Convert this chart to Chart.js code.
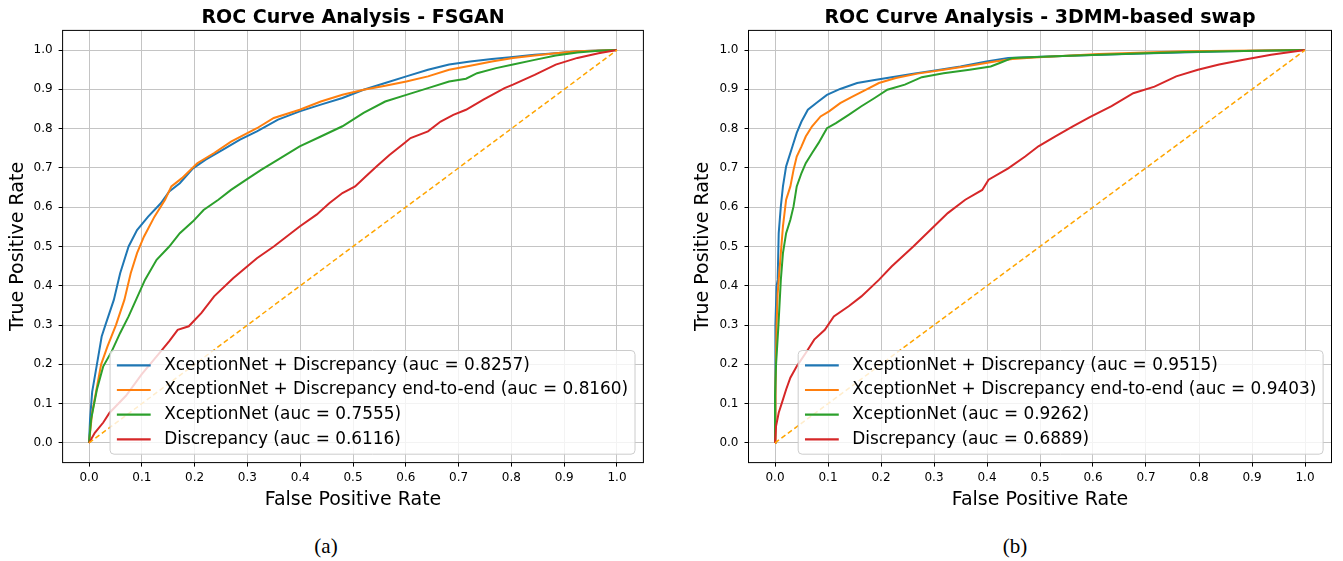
<!DOCTYPE html>
<html><head><meta charset="utf-8">
<script src="https://cdn.jsdelivr.net/npm/chart.js@4.4.0/dist/chart.umd.min.js"></script>
<style>
html,body{margin:0;padding:0;background:#fff;width:1343px;height:561px;overflow:hidden;position:relative}
canvas{position:absolute;top:0}
#ca{left:0}
#cb{left:670px}
.cap{position:absolute;font-family:'Liberation Serif','DejaVu Serif',serif;font-size:21px;color:#000;transform:translate(-50%,-50%);top:546px;white-space:nowrap}
</style></head><body>
<canvas id="ca" width="670" height="520"></canvas>
<canvas id="cb" width="673" height="520"></canvas>
<div class="cap" style="left:326px">(a)</div>
<div class="cap" style="left:1015px">(b)</div>
<script>
// ---------- tick labels ----------
const xTicks = [0,0.1,0.2,0.3,0.4,0.5,0.6,0.7,0.8,0.9,1.0];
const yTicks = [0,0.1,0.2,0.3,0.4,0.5,0.6,0.7,0.8,0.9,1.0];

// ---------- titles / labels ----------
const titleA = 'ROC Curve Analysis - FSGAN';
const titleB = 'ROC Curve Analysis - 3DMM-based swap';
const seriesNames = ['XceptionNet + Discrepancy', 'XceptionNet + Discrepancy end-to-end', 'XceptionNet', 'Discrepancy'];
const aucA = ['0.8257', '0.8160', '0.7555', '0.6116'];
const aucB = ['0.9515', '0.9403', '0.9262', '0.6889'];

// ---------- FSGAN (a) ----------
const fsganBlueFpr = [0,0.002,0.006,0.015,0.024,0.031,0.047,0.059,0.075,0.091,0.112,0.136,0.152,0.172,0.197,0.221,0.253,0.286,0.318,0.358,0.399,0.439,0.480,0.520,0.561,0.601,0.642,0.682,0.722,0.763,0.803,0.844,0.884,0.925,0.965,1];
const fsganBlueTpr = [0,0.06,0.13,0.2,0.271,0.3,0.364,0.432,0.5,0.542,0.576,0.610,0.640,0.661,0.699,0.721,0.746,0.772,0.793,0.823,0.844,0.861,0.878,0.899,0.916,0.933,0.950,0.963,0.971,0.977,0.982,0.988,0.992,0.997,0.999,1];

const fsganOrangeFpr = [0,0.006,0.023,0.035,0.051,0.067,0.079,0.091,0.104,0.124,0.144,0.156,0.176,0.205,0.237,0.269,0.318,0.350,0.399,0.439,0.480,0.520,0.561,0.601,0.642,0.682,0.722,0.763,0.803,0.844,0.884,0.925,1];
const fsganOrangeTpr = [0,0.077,0.2,0.246,0.3,0.364,0.432,0.483,0.525,0.576,0.619,0.653,0.674,0.712,0.738,0.767,0.801,0.827,0.848,0.869,0.886,0.899,0.909,0.920,0.933,0.950,0.960,0.971,0.980,0.986,0.992,0.997,1];

const fsganGreenFpr = [0,0.004,0.015,0.027,0.043,0.059,0.075,0.106,0.128,0.152,0.172,0.197,0.217,0.245,0.269,0.298,0.326,0.358,0.399,0.439,0.480,0.520,0.561,0.601,0.642,0.682,0.714,0.735,0.771,0.803,0.844,0.884,0.925,0.965,1];
const fsganGreenTpr = [0,0.06,0.136,0.195,0.233,0.280,0.322,0.415,0.466,0.5,0.534,0.564,0.593,0.619,0.644,0.670,0.695,0.721,0.755,0.780,0.806,0.840,0.869,0.886,0.903,0.920,0.927,0.941,0.954,0.963,0.975,0.986,0.994,0.998,1];

const fsganRedFpr = [0,0.011,0.027,0.039,0.07,0.1,0.136,0.152,0.168,0.189,0.213,0.237,0.273,0.318,0.350,0.399,0.431,0.455,0.480,0.504,0.524,0.545,0.569,0.597,0.609,0.642,0.666,0.690,0.714,0.747,0.787,0.803,0.844,0.884,0.925,0.965,1];
const fsganRedTpr = [0,0.026,0.052,0.077,0.12,0.175,0.233,0.259,0.288,0.297,0.331,0.373,0.419,0.470,0.500,0.551,0.581,0.610,0.636,0.653,0.678,0.704,0.733,0.763,0.776,0.793,0.818,0.835,0.848,0.874,0.903,0.912,0.937,0.963,0.980,0.992,1];

// ---------- 3DMM-based swap (b) ----------
const dmmBlueFpr = [0,0.0005,0.001,0.003,0.005,0.007,0.011,0.015,0.021,0.025,0.033,0.041,0.050,0.062,0.078,0.098,0.123,0.155,0.188,0.220,0.261,0.302,0.350,0.399,0.440,0.489,0.570,0.692,0.854,1];
const dmmBlueTpr = [0,0.15,0.3,0.4,0.415,0.534,0.602,0.653,0.704,0.721,0.755,0.789,0.818,0.848,0.865,0.886,0.901,0.916,0.924,0.931,0.940,0.948,0.958,0.971,0.980,0.982,0.986,0.991,0.997,1];

const dmmOrangeFpr = [0,0.001,0.003,0.005,0.007,0.011,0.015,0.021,0.029,0.035,0.041,0.050,0.058,0.070,0.086,0.102,0.123,0.147,0.172,0.196,0.228,0.269,0.318,0.367,0.415,0.448,0.489,0.611,0.773,1];
const dmmOrangeTpr = [0,0.15,0.3,0.38,0.415,0.483,0.551,0.619,0.653,0.695,0.729,0.755,0.780,0.806,0.831,0.844,0.865,0.882,0.899,0.916,0.929,0.940,0.950,0.960,0.971,0.977,0.981,0.990,0.997,1];

const dmmGreenFpr = [0,0.0,0.002,0.0065,0.011,0.015,0.021,0.029,0.035,0.041,0.050,0.058,0.070,0.082,0.098,0.115,0.139,0.163,0.188,0.212,0.245,0.277,0.318,0.367,0.407,0.424,0.448,0.529,0.611,0.773,1];
const dmmGreenTpr = [0,0.12,0.2,0.3,0.415,0.483,0.534,0.568,0.602,0.653,0.687,0.712,0.738,0.763,0.801,0.814,0.835,0.857,0.878,0.899,0.912,0.931,0.941,0.950,0.958,0.967,0.980,0.984,0.988,0.995,1];

const dmmRedFpr = [0,0.002,0.007,0.013,0.021,0.029,0.041,0.058,0.074,0.094,0.111,0.139,0.163,0.196,0.220,0.261,0.293,0.326,0.359,0.391,0.403,0.440,0.472,0.497,0.529,0.562,0.594,0.635,0.676,0.716,0.757,0.798,0.838,0.879,0.936,1];
const dmmRedTpr = [0,0.043,0.077,0.102,0.136,0.166,0.195,0.229,0.263,0.288,0.322,0.348,0.373,0.415,0.449,0.5,0.542,0.585,0.619,0.644,0.670,0.699,0.729,0.755,0.780,0.806,0.829,0.857,0.890,0.907,0.933,0.950,0.963,0.974,0.988,1];

// chance diagonal
const chanceFpr = [0,1];
const chanceTpr = [0,1];

const colors = ['#1f77b4','#ff7f0e','#2ca02c','#d62728'];
const zip = (xs, ys) => xs.map((x,i)=>({x, y: ys[i]}));

Chart.defaults.font.family = "'DejaVu Sans', sans-serif";
Chart.defaults.color = '#000';

const frameAndLegend = {
  id: 'frameAndLegend',
  afterDatasetsDraw(chart) {
    const ctx = chart.ctx, a = chart.chartArea;
    ctx.save();
    ctx.strokeStyle = '#000';
    ctx.lineWidth = 1;
    ctx.strokeRect(a.left, a.top, a.right - a.left, a.bottom - a.top);
    const F = 16.9;
    ctx.font = F + "px 'DejaVu Sans'";
    const items = chart.data.datasets.filter(d => d.inLegend);
    const maxW = Math.max(...items.map(d => ctx.measureText(d.label).width));
    const pad = 6.8, handle = 33.8, gap = 13.5, pitch = 24.7, edge = 14.8;
    const w = pad * 2 + handle + gap + maxW;
    const h = edge * 2 + pitch * (items.length - 1);
    const right = a.right - 8.4, bottom = a.bottom - 8.4;
    const left = right - w, top = bottom - h;
    ctx.beginPath();
    if (ctx.roundRect) ctx.roundRect(left, top, w, h, 4); else ctx.rect(left, top, w, h);
    ctx.fillStyle = 'rgba(255,255,255,0.8)';
    ctx.fill();
    ctx.strokeStyle = '#cccccc';
    ctx.stroke();
    items.forEach((d, i) => {
      const cy = top + edge + i * pitch;
      ctx.beginPath();
      ctx.strokeStyle = d.borderColor;
      ctx.lineWidth = 2.2;
      ctx.moveTo(left + pad, cy);
      ctx.lineTo(left + pad + handle, cy);
      ctx.stroke();
      ctx.fillStyle = '#000';
      ctx.textBaseline = 'middle';
      ctx.textAlign = 'left';
      ctx.fillText(d.label, left + pad + handle + gap, cy);
    });
    ctx.restore();
  }
};

function makeChart(id, title, series, aucs, yWidth, rightPad, yTitlePad) {
  const datasets = series.map((s, i) => ({
    label: seriesNames[i] + ' (auc = ' + aucs[i] + ')',
    data: zip(s[0], s[1]),
    borderColor: colors[i],
    backgroundColor: colors[i],
    borderWidth: 2,
    pointRadius: 0,
    fill: false,
    tension: 0,
    inLegend: true,
    order: 5 - i
  }));
  datasets.push({
    label: 'chance',
    data: zip(chanceFpr, chanceTpr),
    borderColor: '#ffa500',
    borderWidth: 1.5,
    borderDash: [5, 3],
    pointRadius: 0,
    fill: false,
    inLegend: false,
    order: 0
  });
  return new Chart(document.getElementById(id), {
    type: 'line',
    data: { datasets },
    options: {
      responsive: false,
      animation: false,
      layout: { padding: { left: 0, right: rightPad, top: 0, bottom: 0 } },
      plugins: {
        legend: { display: false },
        tooltip: { enabled: false },
        title: {
          display: true, text: title, fullSize: false, color: '#000',
          font: { size: 19, weight: 'bold' },
          padding: { top: 7, bottom: 0.6 }
        }
      },
      scales: {
        x: {
          type: 'linear', min: -0.05, max: 1.05,
          afterBuildTicks: s => { s.ticks = xTicks.map(v => ({ value: v })); },
          afterFit: s => { s.height = 57.4; },
          ticks: { callback: v => v.toFixed(1), font: { size: 12 }, color: '#000', padding: 4, maxRotation: 0, autoSkip: false },
          grid: { color: '#c4c4c4', lineWidth: 1, drawTicks: true, tickLength: 4, tickColor: '#000', tickWidth: 1 },
          border: { display: false },
          title: { display: true, text: 'False Positive Rate', font: { size: 19 }, color: '#000', padding: { top: 0, bottom: 8.6 } }
        },
        y: {
          type: 'linear', min: -0.05, max: 1.05,
          afterBuildTicks: s => { s.ticks = yTicks.map(v => ({ value: v })); },
          afterFit: s => { s.width = yWidth; },
          ticks: { callback: v => v.toFixed(1), font: { size: 12 }, color: '#000', padding: 6, autoSkip: false },
          grid: { color: '#c4c4c4', lineWidth: 1, drawTicks: true, tickLength: 4, tickColor: '#000', tickWidth: 1 },
          border: { display: false },
          title: { display: true, text: 'True Positive Rate', font: { size: 19 }, color: '#000', padding: { top: yTitlePad, bottom: 0 } }
        }
      }
    },
    plugins: [frameAndLegend]
  });
}

makeChart('ca', titleA, [
  [fsganBlueFpr, fsganBlueTpr],
  [fsganOrangeFpr, fsganOrangeTpr],
  [fsganGreenFpr, fsganGreenTpr],
  [fsganRedFpr, fsganRedTpr]
], aucA, 62.6, 26.6, 6.2);

makeChart('cb', titleB, [
  [dmmBlueFpr, dmmBlueTpr],
  [dmmOrangeFpr, dmmOrangeTpr],
  [dmmGreenFpr, dmmGreenTpr],
  [dmmRedFpr, dmmRedTpr]
], aucB, 78.5, 11.5, 22.1);
</script>
</body></html>
